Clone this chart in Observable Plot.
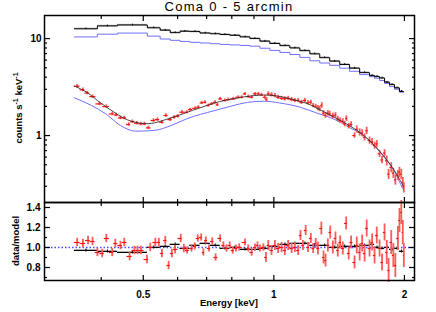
<!DOCTYPE html>
<html><head><meta charset="utf-8">
<script src="https://cdn.jsdelivr.net/npm/d3@7"></script>
<script src="https://cdn.jsdelivr.net/npm/@observablehq/plot@0.6"></script>
<style>
body{margin:0;background:#fff;}
#wrap{position:relative;width:436px;height:312px;font-family:"Liberation Sans",Arial,sans-serif;color:#000;overflow:hidden;}
#wrap svg{position:absolute;left:0;top:0;}
.lbl{position:absolute;white-space:nowrap;font-weight:bold;font-size:9.5px;line-height:10px;transform:translate(-50%,-50%);}
.rot{transform:translate(-50%,-50%) rotate(-90deg);}
.title{position:absolute;white-space:nowrap;font-size:13px;letter-spacing:1.3px;line-height:14px;transform:translate(-50%,-50%);}
sup{font-size:7px;vertical-align:4px;line-height:0;}
</style></head><body>
<div id="wrap">
  <div class="title" style="left:229px;top:7px">Coma 0 - 5 arcmin</div>
  <div class="lbl rot" style="left:19px;top:108px">counts s<sup>-1</sup> keV<sup>-1</sup></div>
  <div class="lbl rot" style="left:16px;top:241px">data/model</div>
  <div class="lbl" style="left:229px;top:303px">Energy [keV]</div>
</div>
<script>
// ---- tick values ----
const xMajor = [0.5, 1, 2];
const xMinor = [0.4, 0.6, 0.7, 0.8, 0.9];
const yMajorTop = [1, 10];
const yMinorTop = [0.3, 0.4, 0.5, 0.6, 0.7, 0.8, 0.9, 2, 3, 4, 5, 6, 7, 8, 9];
const yMajorBot = [0.8, 1.0, 1.2, 1.4];
const yMinorBot = [0.7, 0.9, 1.1, 1.3];

// ---- upper (black) spectrum: bin edges, data/model, blue component, ratio ----
const upperEdges = [0.347,0.392,0.436,0.511,0.547,0.577,0.608,0.640,0.676,0.714,0.752,0.792,0.836,0.881,0.929,0.979,1.033,1.089,1.148,1.211,1.276,1.345,1.419,1.495,1.577,1.662,1.707,1.753,1.800,1.848,1.898,1.948,1.990];
const upperBlack = [12.6,13.5,13.8,12.9,12.2,11.5,11.9,11.8,11.4,11.2,11.0,10.8,10.4,10.0,9.4,8.9,8.45,8.0,7.5,6.95,6.35,5.85,5.4,4.95,4.45,4.15,4.05,3.92,3.55,3.35,3.1,2.85];
const upperBlue = [10.4,11.1,11.4,10.6,9.9,9.6,9.35,9.15,9.0,8.85,8.7,8.6,8.5,8.35,7.95,7.55,7.2,6.85,6.4,5.9,5.6,5.3,4.95,4.6,4.25,4.05,3.9,3.7,3.45,3.2,3.0,2.8];
const upperRatio = [0.97,0.96,0.95,1.00,1.01,1.03,0.99,1.02,1.04,1.02,0.99,1.00,0.98,0.98,0.99,1.01,1.03,1.04,1.04,1.02,1.02,1.00,1.01,1.01,1.02,1.03,1.00,0.99,1.00,0.98,0.99,0.96];

// ---- lower (red) spectrum data ----
const redE = [0.352,0.363,0.371,0.382,0.396,0.411,0.424,0.433,0.443,0.452,0.463,0.472,0.483,0.494,0.503,0.514,0.528,0.539,0.552,0.564,0.577,0.589,0.600,0.614,0.630,0.641,0.659,0.670,0.682,0.694,0.706,0.719,0.732,0.741,0.752,0.771,0.785,0.806,0.828,0.843,0.858,0.873,0.889,0.905,0.921,0.937,0.954,0.962,0.971,0.988,1.006,1.023,1.042,1.060,1.079,1.099,1.118,1.138,1.158,1.179,1.199,1.217,1.232,1.249,1.264,1.276,1.290,1.302,1.316,1.332,1.345,1.368,1.387,1.404,1.422,1.442,1.457,1.470,1.488,1.507,1.535,1.553,1.577,1.598,1.619,1.637,1.662,1.685,1.707,1.727,1.753,1.776,1.800,1.821,1.839,1.865,1.886,1.906,1.932,1.948,1.967,1.983,1.994];
const redFlux = [3.22,2.96,2.75,2.52,2.12,1.99,1.67,1.63,1.52,1.52,1.30,1.39,1.34,1.32,1.32,1.20,1.43,1.46,1.37,1.61,1.46,1.54,1.58,1.74,1.74,1.85,1.91,1.96,2.17,2.20,2.04,2.12,2.20,2.07,2.39,2.30,2.35,2.39,2.48,2.48,2.69,2.52,2.48,2.69,2.69,2.63,2.48,2.35,2.69,2.63,2.58,2.48,2.42,2.39,2.42,2.35,2.30,2.30,2.20,2.30,2.17,2.20,2.04,2.00,1.92,1.88,2.05,1.70,1.61,1.70,1.67,1.60,1.62,1.48,1.43,1.40,1.32,1.50,1.25,1.30,1.00,1.16,1.08,1.06,0.96,1.12,0.888,0.86,0.789,0.82,0.648,0.56,0.66,0.55,0.40,0.47,0.41,0.35,0.39,0.42,0.40,0.33,0.29];
const redRatioE = [0.352,0.363,0.373,0.382,0.392,0.402,0.411,0.424,0.431,0.443,0.452,0.465,0.477,0.485,0.494,0.510,0.519,0.533,0.543,0.552,0.562,0.572,0.582,0.592,0.610,0.620,0.631,0.646,0.657,0.668,0.680,0.688,0.697,0.709,0.721,0.734,0.752,0.765,0.778,0.791,0.804,0.818,0.832,0.858,0.873,0.889,0.905,0.917,0.929,0.946,0.959,0.971,0.988,1.006,1.023,1.042,1.060,1.079,1.099,1.118,1.138,1.152,1.167,1.184,1.199,1.217,1.232,1.249,1.264,1.287,1.302,1.316,1.332,1.349,1.368,1.387,1.404,1.422,1.442,1.468,1.488,1.507,1.535,1.553,1.577,1.598,1.619,1.637,1.662,1.685,1.707,1.727,1.753,1.776,1.800,1.821,1.839,1.865,1.886,1.906,1.932,1.948,1.967,1.983,1.994];
const redRatio = [1.05,1.04,1.07,1.06,0.95,0.94,1.09,0.95,1.04,1.02,1.05,0.91,0.97,0.97,0.97,0.88,1.00,1.05,1.05,0.94,1.07,0.82,0.94,0.98,1.09,0.99,0.97,0.99,1.01,1.09,1.10,0.95,1.07,0.99,1.06,0.90,1.09,1.02,0.99,1.02,0.97,0.99,1.00,1.05,0.99,0.95,1.00,1.02,0.99,1.00,0.90,1.02,0.97,1.02,0.99,1.00,0.97,1.02,0.99,1.00,0.97,1.12,1.02,1.17,1.00,1.09,0.99,1.04,0.99,1.19,0.90,0.87,1.02,1.15,1.00,1.09,0.97,1.05,0.99,1.24,0.94,1.05,0.85,1.02,0.95,1.04,0.94,1.19,0.99,1.05,0.92,1.12,0.99,0.85,1.15,0.95,0.77,1.05,0.92,0.82,1.09,1.27,1.35,1.15,0.92];
// error size per energy band (upper band edge, relative error)
const errMaxE = [0.62, 0.95, 1.25, 1.55, 1.80, 2.2];
const errVal = [0.042, 0.036, 0.05, 0.065, 0.085, 0.12];

// ---- red model (dark line) and blue component ----
const redModelE = [0.347,0.37,0.40,0.43,0.46,0.50,0.53,0.56,0.60,0.65,0.70,0.75,0.80,0.85,0.90,0.95,1.00,1.05,1.10,1.15,1.20,1.30,1.40,1.50,1.60,1.70,1.80,1.90,1.99];
const redModel = [3.25,2.80,2.15,1.72,1.45,1.33,1.35,1.45,1.60,1.82,2.04,2.24,2.38,2.50,2.58,2.62,2.58,2.49,2.38,2.25,2.12,1.77,1.49,1.25,1.03,0.80,0.60,0.43,0.30];
const blueLowE = [0.347,0.38,0.41,0.443,0.48,0.53,0.58,0.63,0.73,0.80,0.87,0.95,1.03,1.15,1.25,1.37,1.50,1.63,1.78,1.90,1.98];
const blueLow = [2.45,2.04,1.67,1.27,1.11,1.13,1.27,1.49,1.81,2.02,2.20,2.26,2.17,1.96,1.72,1.49,1.20,0.96,0.63,0.42,0.285];

// ---- derived tables ----
const relErr = e => { const i = errMaxE.findIndex(m => e <= m); return errVal[i < 0 ? errVal.length - 1 : i]; };
function binEdges(es) {
  return es.map((e, i) => {
    const hi = i < es.length - 1 ? Math.sqrt(e * es[i + 1]) : e * e / Math.sqrt(es[i - 1] * e);
    const lo = i > 0 ? Math.sqrt(es[i - 1] * e) : e * e / hi;
    return [lo, hi];
  });
}
const upperBins = upperBlack.map((v, i) => ({
  lo: upperEdges[i], hi: upperEdges[i + 1], c: Math.sqrt(upperEdges[i] * upperEdges[i + 1]),
  v, b: upperBlue[i], r: upperRatio[i]
}));
const stepOf = key => upperBins.flatMap(d => [{x: d.lo, y: d[key]}, {x: d.hi, y: d[key]}]);
const redEdges = binEdges(redE);
const redPts = redE.map((e, i) => ({e, v: redFlux[i], lo: redEdges[i][0], hi: redEdges[i][1], s: relErr(e)}));
const ratioEdges = binEdges(redRatioE);
const ratioPts = redRatioE.map((e, i) => ({e, r: redRatio[i], lo: ratioEdges[i][0], hi: ratioEdges[i][1], s: relErr(e)}));
const modelPts = redModelE.map((e, i) => ({e, v: redModel[i]}));
const bluePts = blueLowE.map((e, i) => ({e, v: blueLow[i]}));

const RED = "#ff1010", PINK = "#ff5a5a", BLUE = "#6f6fff";
const xDom = [0.296, 2.11];
const blank = () => "";
const common = {width: 436, height: 312, marginLeft: 44, marginRight: 22,
  style: {background: "transparent", fontFamily: "Liberation Sans, Arial, sans-serif", fontSize: "10px", fontWeight: "bold", color: "black"}};

const xTicks = (anchor, withLabels) => [
  Plot.axisX(xMajor, {anchor, tickSize: -5, tickPadding: 15, tickFormat: withLabels ? (d => String(d)) : blank, label: null, strokeWidth: 1.2}),
  Plot.axisX(xMinor, {anchor, tickSize: -3, tickFormat: blank, label: null, strokeWidth: 1.2})
];

const topPlot = Plot.plot({
  ...common, marginTop: 15, marginBottom: 110,
  x: {type: "log", domain: xDom},
  y: {type: "log", domain: [0.204, 17.3]},
  marks: [
    Plot.rect(upperBins, {x1: "lo", x2: "hi", y1: d => d.v * 0.985, y2: d => d.v * 1.015, fill: "#a0a0a0"}),
    Plot.line(stepOf("b"), {x: "x", y: "y", stroke: BLUE, strokeWidth: 1}),
    Plot.line(stepOf("v"), {x: "x", y: "y", stroke: "black", strokeWidth: 1}),
    Plot.ruleX(upperBins, {x: "c", y1: d => d.v * 0.98, y2: d => d.v * 1.02, stroke: "black", strokeWidth: 1}),
    Plot.line(bluePts, {x: "e", y: "v", stroke: BLUE, strokeWidth: 1, curve: "monotone-x"}),
    Plot.ruleX(redPts, {x: "e", y1: d => d.v * (1 - d.s), y2: d => d.v * (1 + d.s), stroke: PINK, strokeWidth: 1.8}),
    Plot.ruleY(redPts, {y: "v", x1: "lo", x2: "hi", stroke: RED, strokeWidth: 1.2}),
    Plot.line(modelPts, {x: "e", y: "v", stroke: "#333", strokeWidth: 0.9, curve: "catmull-rom"}),
    Plot.frame({stroke: "black", strokeWidth: 1.5}),
    Plot.axisY(yMajorTop, {anchor: "left", tickSize: -6, tickPadding: 9, tickFormat: d => String(d), label: null, strokeWidth: 1.2}),
    Plot.axisY(yMinorTop, {anchor: "left", tickSize: -3, tickFormat: blank, label: null, strokeWidth: 1.2}),
    Plot.axisY(yMajorTop, {anchor: "right", tickSize: -6, tickFormat: blank, label: null, strokeWidth: 1.2}),
    Plot.axisY(yMinorTop, {anchor: "right", tickSize: -3, tickFormat: blank, label: null, strokeWidth: 1.2}),
    ...xTicks("top", false),
    ...xTicks("bottom", false)
  ]
});

const bottomPlot = Plot.plot({
  ...common, marginTop: 202, marginBottom: 32,
  x: {type: "log", domain: xDom},
  y: {domain: [0.67, 1.45]},
  marks: [
    Plot.ruleY([1], {stroke: "#4a4aff", strokeWidth: 1.5, strokeDasharray: "1.5,2"}),
    Plot.rect(upperBins, {x1: "lo", x2: "hi", y1: d => d.r - 0.008, y2: d => d.r + 0.008, fill: "#a0a0a0"}),
    Plot.ruleY(upperBins, {y: "r", x1: "lo", x2: "hi", stroke: "black", strokeWidth: 1}),
    Plot.ruleX(upperBins, {x: "c", y1: d => d.r - 0.015, y2: d => d.r + 0.015, stroke: "black", strokeWidth: 1}),
    Plot.ruleX(ratioPts, {x: "e", y1: d => d.r - d.s, y2: d => d.r + d.s, stroke: PINK, strokeWidth: 1.8}),
    Plot.ruleY(ratioPts, {y: "r", x1: "lo", x2: "hi", stroke: RED, strokeWidth: 1.2}),
    Plot.frame({stroke: "black", strokeWidth: 1.5}),
    Plot.axisY(yMajorBot, {anchor: "left", tickSize: -6, tickPadding: 10, tickFormat: d => d.toFixed(1), label: null, strokeWidth: 1.2}),
    Plot.axisY(yMinorBot, {anchor: "left", tickSize: -3, tickFormat: blank, label: null, strokeWidth: 1.2}),
    Plot.axisY(yMajorBot, {anchor: "right", tickSize: -6, tickFormat: blank, label: null, strokeWidth: 1.2}),
    Plot.axisY(yMinorBot, {anchor: "right", tickSize: -3, tickFormat: blank, label: null, strokeWidth: 1.2}),
    ...xTicks("top", false),
    ...xTicks("bottom", true)
  ]
});

const wrap = document.getElementById("wrap");
wrap.prepend(bottomPlot);
wrap.prepend(topPlot);
</script>
</body></html>
